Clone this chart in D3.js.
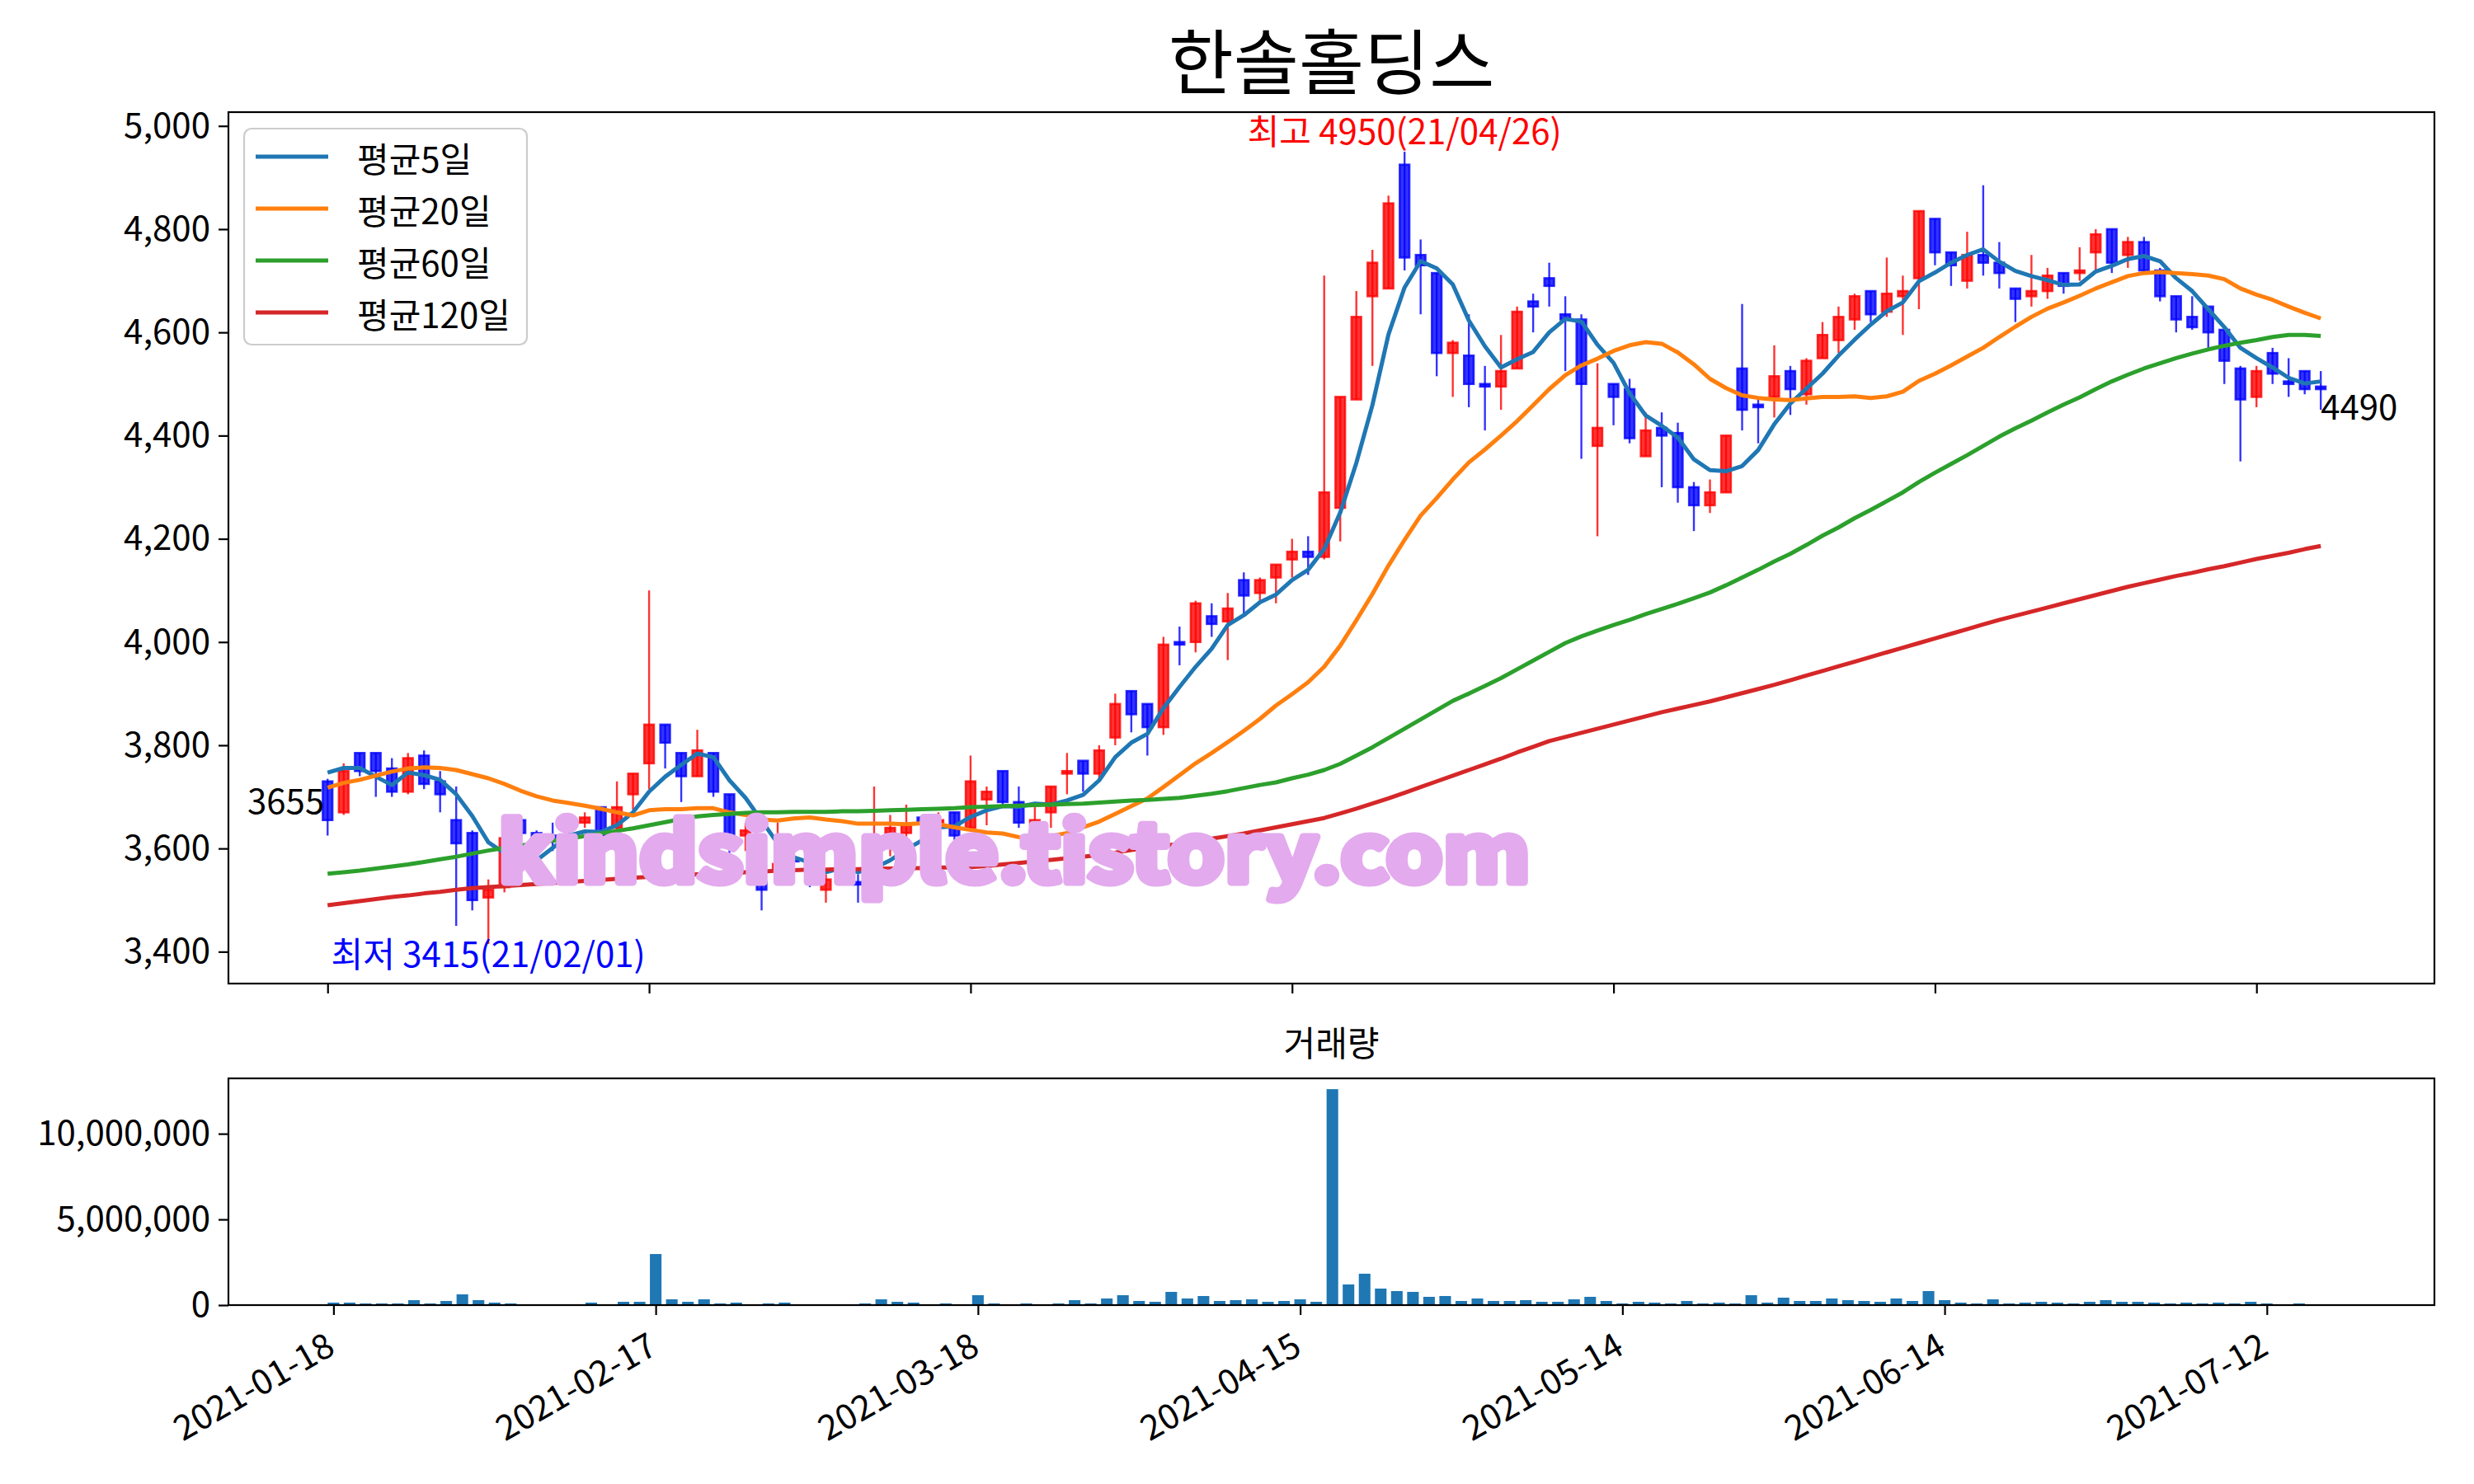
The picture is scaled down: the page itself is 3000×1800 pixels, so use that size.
<!DOCTYPE html>
<html>
<head>
<meta charset="utf-8">
<script src="https://cdnjs.cloudflare.com/ajax/libs/d3/7.8.5/d3.min.js"></script>
<style>
  body { margin: 0; background: #fff; }
  svg text { font-family: 'Noto Sans CJK KR', 'Noto Sans', sans-serif; }
</style>
</head>
<body>
<svg id="chart"></svg>
<script>
// trading days (2021)
const dates = [
  '01-18','01-19','01-20','01-21','01-22','01-25','01-26','01-27','01-28','01-29',
  '02-01','02-02','02-03','02-04','02-05','02-08','02-09','02-10','02-15','02-16',
  '02-17','02-18','02-19','02-22','02-23','02-24','02-25','02-26','03-02','03-03',
  '03-04','03-05','03-08','03-09','03-10','03-11','03-12','03-15','03-16','03-17',
  '03-18','03-19','03-22','03-23','03-24','03-25','03-26','03-29','03-30','03-31',
  '04-01','04-02','04-05','04-06','04-07','04-08','04-09','04-12','04-13','04-14',
  '04-15','04-16','04-19','04-20','04-21','04-22','04-23','04-26','04-27','04-28',
  '04-29','04-30','05-03','05-04','05-06','05-07','05-10','05-11','05-12','05-13',
  '05-14','05-17','05-18','05-20','05-21','05-24','05-25','05-26','05-27','05-28',
  '05-31','06-01','06-02','06-03','06-04','06-07','06-08','06-09','06-10','06-11',
  '06-14','06-15','06-16','06-17','06-18','06-21','06-22','06-23','06-24','06-25',
  '06-28','06-29','06-30','07-01','07-02','07-05','07-06','07-07','07-08','07-09',
  '07-12','07-13','07-14','07-15','07-16'
].map(d => '2021-' + d);

const opens = [
  3730,3670,3785,3785,3755,3710,3780,3730,3655,3630,
  3505,3525,3655,3630,3625,3655,3650,3680,3640,3705,
  3765,3840,3785,3740,3785,3705,3625,3535,3560,3580,
  3575,3520,3565,3535,3540,3630,3630,3660,3650,3670,
  3640,3695,3750,3690,3645,3670,3745,3770,3745,3815,
  3905,3880,3835,4000,4000,4050,4040,4120,4095,4125,
  4160,4175,4165,4260,4470,4670,4685,4925,4750,4715,
  4560,4555,4500,4495,4530,4660,4705,4635,4625,4380,
  4500,4490,4360,4415,4405,4300,4265,4290,4530,4460,
  4475,4525,4480,4550,4585,4625,4680,4640,4670,4705,
  4820,4755,4700,4750,4735,4685,4670,4680,4715,4715,
  4755,4800,4750,4775,4720,4670,4630,4650,4605,4530,
  4475,4560,4505,4525,4495
];
const highs = [
  3735,3765,3785,3785,3775,3785,3790,3750,3720,3635,
  3540,3630,3660,3635,3650,3655,3670,3680,3730,3745,
  4100,3840,3785,3830,3785,3705,3650,3560,3650,3590,
  3585,3550,3570,3550,3720,3665,3685,3665,3670,3670,
  3780,3720,3750,3720,3680,3720,3785,3770,3800,3900,
  3905,3880,4010,4030,4080,4075,4095,4135,4125,4150,
  4200,4205,4710,4475,4680,4760,4865,4950,4780,4715,
  4585,4635,4535,4595,4650,4675,4735,4670,4635,4540,
  4500,4510,4445,4445,4425,4310,4315,4400,4655,4470,
  4575,4535,4550,4620,4650,4675,4680,4745,4710,4835,
  4820,4755,4795,4885,4775,4685,4750,4725,4715,4765,
  4800,4800,4785,4785,4725,4670,4670,4650,4605,4535,
  4535,4570,4550,4525,4525
];
const lows = [
  3625,3665,3740,3700,3700,3705,3715,3670,3450,3480,
  3415,3515,3600,3590,3595,3625,3640,3615,3635,3675,
  3715,3755,3690,3740,3700,3585,3595,3480,3530,3550,
  3525,3495,3530,3495,3530,3585,3610,3605,3640,3615,
  3635,3645,3685,3640,3625,3640,3705,3710,3735,3800,
  3825,3780,3820,3955,3980,4010,3965,4055,4080,4075,
  4125,4130,4160,4195,4470,4535,4685,4720,4635,4515,
  4475,4455,4410,4450,4530,4600,4650,4525,4355,4205,
  4420,4385,4360,4300,4270,4215,4250,4290,4410,4385,
  4435,4440,4460,4550,4560,4605,4620,4630,4595,4645,
  4730,4690,4685,4710,4685,4620,4650,4665,4675,4700,
  4720,4715,4725,4715,4660,4600,4605,4570,4500,4350,
  4455,4500,4475,4480,4450
];
const closes = [
  3655,3750,3750,3750,3710,3775,3725,3705,3610,3500,
  3520,3620,3630,3615,3620,3640,3660,3625,3680,3745,
  3840,3805,3740,3790,3710,3615,3635,3520,3570,3575,
  3565,3540,3560,3530,3615,3640,3645,3650,3655,3625,
  3730,3710,3690,3650,3655,3720,3750,3745,3790,3880,
  3860,3835,3995,3995,4075,4035,4065,4090,4120,4150,
  4175,4165,4290,4475,4630,4735,4850,4745,4730,4560,
  4580,4500,4495,4525,4640,4650,4690,4625,4500,4415,
  4475,4395,4410,4400,4300,4265,4290,4400,4450,4455,
  4515,4490,4545,4595,4630,4670,4635,4675,4680,4835,
  4755,4730,4750,4735,4715,4665,4680,4710,4690,4720,
  4790,4735,4775,4720,4670,4625,4610,4600,4545,4470,
  4525,4520,4500,4490,4490
];
const volumes = [
  145000,145000,96000,96000,96000,289000,96000,241000,627000,289000,
  145000,96000,48000,48000,48000,48000,145000,48000,193000,193000,
  2980000,337000,193000,337000,96000,145000,48000,96000,145000,20000,
  48000,48000,20000,96000,337000,193000,145000,48000,96000,20000,
  578000,96000,48000,96000,48000,96000,289000,96000,386000,578000,
  241000,193000,771000,386000,530000,241000,289000,337000,193000,241000,
  337000,193000,12600000,1205000,1831000,964000,819000,771000,482000,530000,
  241000,386000,241000,241000,289000,193000,193000,337000,482000,241000,
  96000,193000,145000,96000,241000,96000,145000,96000,578000,145000,
  434000,241000,241000,386000,289000,241000,193000,386000,241000,819000,
  289000,145000,96000,337000,96000,145000,193000,145000,96000,193000,
  289000,193000,193000,145000,96000,145000,96000,145000,96000,193000,
  96000,48000,96000,48000,15000
];

// moving averages as drawn
const ma5 = [
  3747,3756,3756,3739,3723,3747,3742,3733,3705,3663,
  3612,3591,3576,3577,3601,3625,3633,3632,3645,3670,
  3710,3739,3762,3784,3777,3732,3698,3654,3610,3583,
  3573,3554,3562,3554,3562,3577,3598,3616,3641,3643,
  3661,3674,3682,3681,3687,3685,3693,3704,3732,3777,
  3805,3822,3872,3913,3952,3987,4033,4052,4077,4092,
  4120,4140,4180,4251,4347,4459,4596,4687,4738,4724,
  4693,4623,4573,4532,4548,4562,4600,4626,4621,4576,
  4541,4482,4439,4419,4396,4354,4333,4331,4341,4372,
  4422,4462,4491,4520,4555,4586,4615,4641,4658,4699,
  4716,4735,4750,4761,4737,4719,4709,4701,4692,4693,
  4718,4729,4742,4748,4738,4705,4680,4645,4610,4570,
  4550,4532,4512,4501,4505
];
const ma20 = [
  3718,3727,3733,3741,3749,3755,3757,3756,3752,3744,
  3736,3725,3712,3701,3693,3688,3683,3677,3670,3664,
  3674,3676,3676,3678,3678,3670,3665,3656,3654,3658,
  3660,3656,3653,3648,3648,3648,3647,3649,3647,3641,
  3636,3631,3629,3622,3619,3624,3630,3641,3652,3667,
  3682,3697,3719,3742,3765,3785,3806,3828,3851,3877,
  3899,3922,3952,3993,4042,4093,4148,4198,4245,4279,
  4315,4348,4373,4400,4428,4459,4490,4517,4536,4549,
  4564,4575,4581,4578,4561,4538,4510,4492,4478,4473,
  4470,4469,4472,4475,4475,4476,4473,4476,4485,4506,
  4520,4536,4553,4570,4591,4611,4630,4646,4658,4671,
  4685,4697,4709,4715,4717,4715,4713,4710,4703,4685,
  4673,4663,4650,4638,4627
];
const ma60 = [
  3551,3554,3557,3561,3565,3569,3574,3579,3584,3590,
  3596,3601,3606,3610,3615,3619,3624,3629,3634,3639,
  3645,3651,3657,3662,3665,3667,3669,3670,3670,3671,
  3671,3671,3672,3672,3673,3674,3675,3676,3677,3678,
  3680,3681,3682,3683,3684,3685,3686,3687,3689,3691,
  3693,3694,3696,3698,3702,3706,3711,3717,3723,3728,
  3736,3743,3752,3764,3780,3796,3814,3832,3850,3868,
  3886,3900,3915,3930,3947,3964,3981,3998,4011,4022,
  4033,4043,4054,4064,4074,4085,4096,4110,4125,4140,
  4156,4171,4188,4206,4222,4240,4256,4273,4290,4310,
  4328,4345,4362,4380,4398,4414,4429,4445,4460,4474,
  4490,4505,4518,4530,4540,4550,4559,4567,4574,4580,
  4585,4591,4595,4595,4593
];
const ma120 = [
  3490,3494,3498,3502,3506,3509,3513,3516,3520,3523,
  3525,3527,3529,3531,3533,3535,3537,3539,3541,3543,
  3545,3547,3549,3550,3551,3552,3554,3555,3557,3558,
  3559,3559,3560,3560,3561,3561,3562,3562,3563,3563,
  3564,3566,3569,3572,3575,3578,3581,3584,3588,3592,
  3597,3601,3605,3609,3614,3619,3624,3629,3635,3641,
  3647,3653,3659,3668,3677,3687,3697,3708,3719,3730,
  3741,3752,3763,3774,3786,3797,3808,3816,3824,3832,
  3840,3848,3856,3864,3871,3878,3885,3893,3901,3909,
  3917,3926,3935,3944,3953,3962,3971,3980,3989,3998,
  4007,4016,4025,4034,4043,4051,4059,4067,4075,4083,
  4091,4099,4107,4114,4121,4128,4134,4141,4147,4154,
  4161,4167,4173,4180,4186
];

const maSeries = [
  { name: '평균5일', values: ma5, color: '#1f77b4' },
  { name: '평균20일', values: ma20, color: '#ff7f0e' },
  { name: '평균60일', values: ma60, color: '#2ca02c' },
  { name: '평균120일', values: ma120, color: '#d62728' },
];

const xTickIdx = [0, 20, 40, 60, 80, 100, 120];
const priceTicks = [3400, 3600, 3800, 4000, 4200, 4400, 4600, 4800, 5000];
const volTicks = [0, 5000000, 10000000];

// ---- layout
const W = 3000, H = 1800;
const plotL = 277, plotR = 2952;
const top1 = 136, bot1 = 1193;   // price panel
const top2 = 1308, bot2 = 1583;  // volume panel
const fs = 42;
const lw = 5;

const svg = d3.select('#chart').attr('width', W).attr('height', H);
svg.append('rect').attr('width', W).attr('height', H).attr('fill', '#fff');

const n = closes.length;
const hiIdx = d3.maxIndex(highs);
const loIdx = d3.minIndex(lows);
const pad = (highs[hiIdx] - lows[loIdx]) * 0.05;

const x = d3.scaleLinear().domain([-6.17, 131.07]).range([plotL, plotR]);
const xv = d3.scaleLinear().domain([-6.52, 130.4]).range([plotL, plotR]);
const y = d3.scaleLinear()
  .domain([lows[loIdx] - pad, highs[hiIdx] + pad])
  .range([bot1, top1]);
const yv = d3.scaleLinear()
  .domain([0, d3.max(volumes) * 1.05])
  .range([bot2, top2]);

svg.append('clipPath').attr('id', 'clip1')
  .append('rect').attr('x', plotL).attr('y', top1)
  .attr('width', plotR - plotL).attr('height', bot1 - top1);

// title
svg.append('text')
  .attr('x', (plotL + plotR) / 2).attr('y', 108)
  .attr('text-anchor', 'middle')
  .attr('font-size', 86)
  .text('한솔홀딩스');

// ---- candles
const gPrice = svg.append('g').attr('clip-path', 'url(#clip1)');
const candleColor = i => (closes[i] >= opens[i] ? '#ff0000' : '#0000ff');
const bw = x(0.3) - x(0);

gPrice.selectAll('.wick')
  .data(d3.range(n))
  .enter().append('line')
    .attr('class', 'wick')
    .attr('x1', i => x(i)).attr('x2', i => x(i))
    .attr('y1', i => y(highs[i])).attr('y2', i => y(lows[i]))
    .attr('stroke', candleColor)
    .attr('stroke-opacity', 0.8)
    .attr('stroke-width', 2.4);

gPrice.selectAll('.body')
  .data(d3.range(n))
  .enter().append('rect')
    .attr('class', 'body')
    .attr('x', i => x(i) - bw)
    .attr('width', bw * 2)
    .attr('y', i => y(Math.max(opens[i], closes[i])))
    .attr('height', i => Math.max(0.5, Math.abs(y(opens[i]) - y(closes[i]))))
    .attr('fill', candleColor)
    .attr('fill-opacity', 0.8)
    .attr('stroke', candleColor)
    .attr('stroke-opacity', 0.8)
    .attr('stroke-width', 2.6);

// moving average lines
const line = d3.line().x((d, i) => x(i)).y(d => y(d));
maSeries.forEach(s => {
  gPrice.append('path')
    .attr('d', line(s.values))
    .attr('fill', 'none')
    .attr('stroke', s.color)
    .attr('stroke-width', lw)
    .attr('stroke-linejoin', 'round');
});

// price frame + axes
svg.append('rect')
  .attr('x', plotL).attr('y', top1)
  .attr('width', plotR - plotL).attr('height', bot1 - top1)
  .attr('fill', 'none').attr('stroke', '#000').attr('stroke-width', 2.2);

const gx1 = svg.append('g')
  .attr('transform', `translate(0, ${bot1})`)
  .call(d3.axisBottom(x).tickValues(xTickIdx).tickFormat('').tickSizeInner(12).tickSizeOuter(0));
const gy1 = svg.append('g')
  .attr('transform', `translate(${plotL}, 0)`)
  .call(d3.axisLeft(y).tickValues(priceTicks).tickFormat(d3.format(',')).tickSizeInner(12).tickSizeOuter(0).tickPadding(10));

// annotations
const shortDate = i => dates[i].slice(2).replace(/-/g, '/');
svg.append('text')
  .attr('x', x(hiIdx)).attr('y', y(highs[hiIdx]) - 9)
  .attr('text-anchor', 'middle').attr('font-size', fs).attr('fill', '#ff0000')
  .text(`최고 ${highs[hiIdx]}(${shortDate(hiIdx)})`);
svg.append('text')
  .attr('x', x(loIdx)).attr('y', y(lows[loIdx]) + 28)
  .attr('text-anchor', 'middle').attr('font-size', fs).attr('fill', '#0000ff')
  .text(`최저 ${lows[loIdx]}(${shortDate(loIdx)})`);
svg.append('text')
  .attr('x', x(0) - 4).attr('y', y(closes[0]) - 8)
  .attr('text-anchor', 'end').attr('font-size', fs)
  .text(closes[0]);
svg.append('text')
  .attr('x', x(n - 1)).attr('y', y(closes[n - 1]) + 37)
  .attr('font-size', fs)
  .text(closes[n - 1]);

// legend
const lg = svg.append('g');
lg.append('rect')
  .attr('x', 296).attr('y', 156).attr('width', 343).attr('height', 262)
  .attr('rx', 9)
  .attr('fill', '#fff').attr('fill-opacity', 0.8)
  .attr('stroke', '#cccccc').attr('stroke-width', 2.2);
maSeries.forEach((s, k) => {
  const ly = 190 + k * 63;
  lg.append('line')
    .attr('x1', 310).attr('x2', 398).attr('y1', ly).attr('y2', ly)
    .attr('stroke', s.color).attr('stroke-width', lw);
  lg.append('text')
    .attr('x', 433).attr('y', ly)
    .attr('dominant-baseline', 'central')
    .attr('font-size', fs)
    .text(s.name);
});

// ---- volume panel
svg.append('text')
  .attr('x', (plotL + plotR) / 2).attr('y', 1281)
  .attr('text-anchor', 'middle').attr('font-size', fs)
  .text('거래량');

const vbw = xv(0.36) - xv(0);
svg.append('g').selectAll('rect')
  .data(d3.range(n))
  .enter().append('rect')
    .attr('x', i => xv(i) - vbw)
    .attr('width', vbw * 2)
    .attr('y', i => yv(volumes[i]))
    .attr('height', i => bot2 - yv(volumes[i]))
    .attr('fill', '#1f77b4');

svg.append('rect')
  .attr('x', plotL).attr('y', top2)
  .attr('width', plotR - plotL).attr('height', bot2 - top2)
  .attr('fill', 'none').attr('stroke', '#000').attr('stroke-width', 2.2);

const gx2 = svg.append('g')
  .attr('transform', `translate(0, ${bot2})`)
  .call(d3.axisBottom(xv).tickValues(xTickIdx).tickFormat(i => dates[i]).tickSizeInner(12).tickSizeOuter(0));
gx2.selectAll('text')
  .attr('y', 0).attr('dy', 0)
  .attr('text-anchor', 'end')
  .attr('dominant-baseline', 'hanging')
  .attr('transform', 'translate(-16, 24) rotate(-30)');

const gy2 = svg.append('g')
  .attr('transform', `translate(${plotL}, 0)`)
  .call(d3.axisLeft(yv).tickValues(volTicks).tickFormat(d3.format(',')).tickSizeInner(12).tickSizeOuter(0).tickPadding(10));

[gx1, gy1, gx2, gy2].forEach(g => {
  g.select('.domain').remove();
  g.selectAll('.tick line').attr('stroke', '#000').attr('stroke-width', 2.2);
  g.selectAll('text')
    .attr('font-size', fs)
    .attr('fill', '#000')
    .attr('font-family', "'Noto Sans CJK KR', sans-serif");
});

// watermark (heavy, opaque)
svg.append('text')
  .attr('x', 604).attr('y', 1070)
  .attr('font-family', "'DejaVu Serif', serif")
  .attr('font-weight', 'bold')
  .attr('font-size', 98)
  .attr('textLength', 1252)
  .attr('lengthAdjust', 'spacingAndGlyphs')
  .attr('fill', '#e3aaee')
  .attr('stroke', '#e3aaee')
  .attr('stroke-width', 9)
  .attr('stroke-linejoin', 'round')
  .text('kindsimple.tistory.com');
</script>
</body>
</html>
